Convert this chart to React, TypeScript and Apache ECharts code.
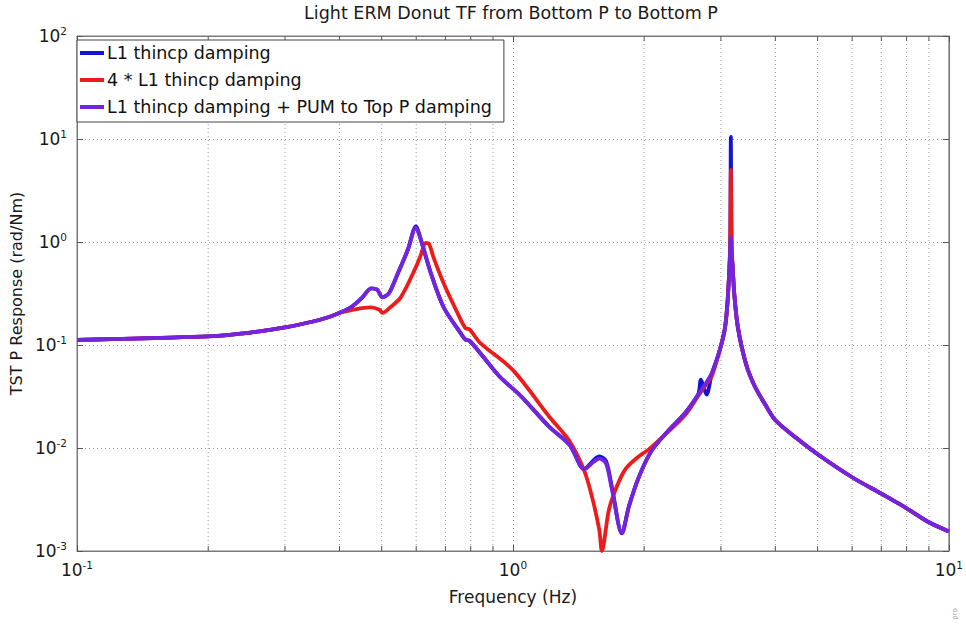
import React, { useEffect, useRef } from "react";
import * as echarts from "echarts";

const FONT = "'DejaVu Sans', 'Liberation Sans', Arial, sans-serif";

const chartTitle = "Light ERM Donut TF from Bottom P to Bottom P";
const xAxisTitle = "Frequency (Hz)";
const yAxisTitle = "TST P Response (rad/Nm)";
const seriesNames = [
  "L1 thincp damping",
  "4 * L1 thincp damping",
  "L1 thincp damping + PUM to Top P damping",
];
const seriesColors = ["#1414d8", "#ec1c1c", "#7424dc"];

// frequency (Hz), response (rad/Nm)
const lowShared: [number, number][] = [
  [0.1, 0.112], [0.12, 0.114], [0.15, 0.117], [0.2, 0.121], [0.25, 0.132],
  [0.3, 0.148], [0.35, 0.17], [0.38, 0.188], [0.4, 0.205],
];

const tailShared: [number, number][] = [
  [3.175, 0.8], [3.19, 0.6], [3.22, 0.31], [3.28, 0.15], [3.42, 0.067],
  [3.585, 0.04], [3.8, 0.026], [4.0, 0.0186], [4.5, 0.0122], [5.0, 0.0087],
  [6.0, 0.0052], [7.0, 0.0036], [8.0, 0.0026], [9.0, 0.0019], [10.0, 0.00155],
];

const thincpMid: [number, number][] = [
  [0.426, 0.234], [0.45, 0.285], [0.473, 0.355], [0.488, 0.345], [0.502, 0.29],
  [0.52, 0.32], [0.545, 0.5], [0.574, 0.84], [0.599, 1.42], [0.615, 1.05],
  [0.648, 0.5], [0.693, 0.234], [0.758, 0.131], [0.778, 0.113], [0.795, 0.11],
  [0.841, 0.0836], [0.934, 0.0489], [1.037, 0.0327], [1.213, 0.016], [1.35, 0.0107],
  [1.458, 0.0063], [1.578, 0.0083], [1.635, 0.0075], [1.688, 0.0041], [1.778, 0.00148],
  [1.845, 0.0027], [1.944, 0.0052], [2.08, 0.0094], [2.275, 0.0148], [2.486, 0.022],
  [2.66, 0.033], [2.7, 0.046], [2.78, 0.033], [2.86, 0.053], [2.97, 0.084],
  [3.06, 0.14], [3.1, 0.23], [3.13, 0.45], [3.15, 0.85], [3.162, 10.5],
];

const thincp4xMid: [number, number][] = [
  [0.426, 0.218], [0.45, 0.228], [0.473, 0.232], [0.494, 0.22], [0.502, 0.205],
  [0.525, 0.235], [0.553, 0.29], [0.599, 0.57], [0.615, 0.75], [0.631, 0.98],
  [0.642, 0.96], [0.658, 0.7], [0.693, 0.4], [0.746, 0.205], [0.778, 0.146],
  [0.795, 0.142], [0.841, 0.105], [1.0, 0.057], [1.213, 0.02], [1.348, 0.0117],
  [1.458, 0.006], [1.52, 0.0033], [1.578, 0.0016], [1.6, 0.001], [1.66, 0.0025],
  [1.73, 0.0042], [1.815, 0.0063], [1.944, 0.0083], [2.05, 0.0097], [2.275, 0.0145],
  [2.486, 0.021], [2.66, 0.032], [2.78, 0.042], [2.86, 0.05], [2.97, 0.084],
  [3.06, 0.14], [3.1, 0.23], [3.13, 0.45], [3.15, 0.85], [3.162, 5.0],
];

const thincpPumMid: [number, number][] = [
  [0.426, 0.234], [0.45, 0.285], [0.473, 0.355], [0.488, 0.345], [0.502, 0.29],
  [0.52, 0.32], [0.545, 0.5], [0.574, 0.84], [0.599, 1.38], [0.615, 1.05],
  [0.648, 0.5], [0.693, 0.234], [0.758, 0.131], [0.778, 0.113], [0.795, 0.11],
  [0.841, 0.0836], [0.934, 0.0489], [1.037, 0.0327], [1.213, 0.016], [1.35, 0.0107],
  [1.458, 0.0062], [1.53, 0.0073], [1.578, 0.0079], [1.635, 0.0071], [1.688, 0.0039],
  [1.778, 0.0015], [1.845, 0.0027], [1.944, 0.0052], [2.08, 0.0094], [2.275, 0.0148],
  [2.486, 0.022], [2.66, 0.033], [2.85, 0.052], [2.97, 0.084], [3.06, 0.14],
  [3.1, 0.23], [3.13, 0.45], [3.15, 0.85], [3.162, 1.1],
];

const minorFreqs = [0.2, 0.3, 0.4, 0.5, 0.6, 0.7, 0.8, 0.9, 2, 3, 4, 5, 6, 7, 8, 9];

const X_MIN = 0.1;
const X_MAX = 10;
const Y_MIN = 0.001;
const Y_MAX = 100;

const expLabel = (v: number) => `{b|10}{s|${Math.round(Math.log10(v))}}`;

const labelRich = {
  b: { fontSize: 17, fontFamily: FONT, color: "#1a1a1a", lineHeight: 22 },
  s: { fontSize: 10.5, fontFamily: FONT, color: "#1a1a1a", lineHeight: 12, verticalAlign: "top" },
};

const gridLine = { show: true, lineStyle: { color: "#9a9a9a", width: 1, type: [1, 3] } };

export default function App() {
  const ref = useRef<HTMLDivElement>(null);
  useEffect(() => {
    document.body.style.margin = "0";
    const chart = echarts.init(ref.current!, undefined, { renderer: "svg" });
    const lineSeries = [
      [...lowShared, ...thincpMid, ...tailShared],
      [...lowShared, ...thincp4xMid, ...tailShared],
      [...lowShared, ...thincpPumMid, ...tailShared],
    ].map((data, i) => ({
      name: seriesNames[i],
      type: "line",
      data,
      showSymbol: false,
      symbol: "none",
      smooth: 0.3,
      z: 3 + i,
      lineStyle: { color: seriesColors[i], width: 3.8, join: "round" },
      itemStyle: { color: seriesColors[i] },
    }));

    const option: any = {
      animation: false,
      backgroundColor: "#ffffff",
      textStyle: { fontFamily: FONT },
      grid: { left: 73, top: 36, width: 879, height: 515, show: true, borderColor: "#7a7a7a", borderWidth: 1 },
      legend: {
        data: seriesNames,
        orient: "vertical",
        left: 77,
        top: 40,
        icon: "rect",
        itemWidth: 24,
        itemHeight: 4,
        itemGap: 7,
        padding: [3, 12, 5, 3],
        backgroundColor: "#ffffff",
        borderColor: "#444444",
        borderWidth: 1,
        borderRadius: 0,
        textStyle: { fontSize: 17.5, fontFamily: FONT, color: "#111", lineHeight: 20, padding: [0, 0, 0, -2] },
      },
      xAxis: [
        {
          type: "log",
          logBase: 10,
          min: X_MIN,
          max: X_MAX,
          name: xAxisTitle,
          nameLocation: "middle",
          nameGap: 37,
          nameTextStyle: { fontSize: 17, fontFamily: FONT, color: "#1a1a1a" },
          axisLine: { show: true, lineStyle: { color: "#7a7a7a" } },
          axisTick: { show: true, inside: true, length: 6, lineStyle: { color: "#555" } },
          axisLabel: { formatter: expLabel, rich: labelRich, margin: 8 },
          splitLine: gridLine,
        },
        {
          type: "log",
          logBase: 10,
          min: X_MIN,
          max: X_MAX,
          position: "top",
          axisLine: { show: true, lineStyle: { color: "#7a7a7a" } },
          axisTick: { show: true, inside: true, length: 6, lineStyle: { color: "#555" } },
          axisLabel: { show: false },
          splitLine: { show: false },
        },
      ],
      yAxis: [
        {
          type: "log",
          logBase: 10,
          min: Y_MIN,
          max: Y_MAX,
          name: yAxisTitle,
          nameLocation: "middle",
          nameGap: 47,
          nameTextStyle: { fontSize: 16, fontFamily: FONT, color: "#1a1a1a" },
          axisLine: { show: true, lineStyle: { color: "#7a7a7a" } },
          axisTick: { show: true, inside: true, length: 6, lineStyle: { color: "#555" } },
          axisLabel: { formatter: expLabel, rich: labelRich, margin: 10 },
          splitLine: gridLine,
        },
        {
          type: "log",
          logBase: 10,
          min: Y_MIN,
          max: Y_MAX,
          position: "right",
          axisLine: { show: true, lineStyle: { color: "#7a7a7a" } },
          axisTick: { show: true, inside: true, length: 6, lineStyle: { color: "#555" } },
          axisLabel: { show: false },
          splitLine: { show: false },
        },
      ],
      graphic: [
        {
          type: "text",
          x: 511,
          y: 13,
          style: {
            text: chartTitle,
            fontSize: 17.5,
            fontFamily: FONT,
            fill: "#1a1a1a",
            textAlign: "center",
            textVerticalAlign: "middle",
          },
        },
        {
          type: "text",
          x: 955,
          y: 614,
          rotation: Math.PI / 2,
          style: { text: "pro", fontSize: 7, fontFamily: FONT, fill: "#999", textAlign: "center", textVerticalAlign: "middle" },
        },
      ],
      series: [
        {
          type: "custom",
          silent: true,
          z: 1,
          data: minorFreqs.map((f) => [f, 1]),
          renderItem: (params: any, api: any) => {
            const x = api.coord([api.value(0), 1])[0];
            const cs = params.coordSys;
            const top = cs.y;
            const bot = cs.y + cs.height;
            return {
              type: "group",
              children: [
                { type: "line", shape: { x1: x, y1: top, x2: x, y2: bot }, style: { stroke: "#9a9a9a", lineWidth: 1, lineDash: [1, 3] } },
                { type: "line", shape: { x1: x, y1: bot, x2: x, y2: bot - 5 }, style: { stroke: "#555", lineWidth: 1 } },
                { type: "line", shape: { x1: x, y1: top, x2: x, y2: top + 5 }, style: { stroke: "#555", lineWidth: 1 } },
              ],
            };
          },
        },
        ...lineSeries,
      ],
    };
    chart.setOption(option);
    return () => chart.dispose();
  }, []);
  return <div ref={ref} style={{ width: 966, height: 624 }} />;
}
